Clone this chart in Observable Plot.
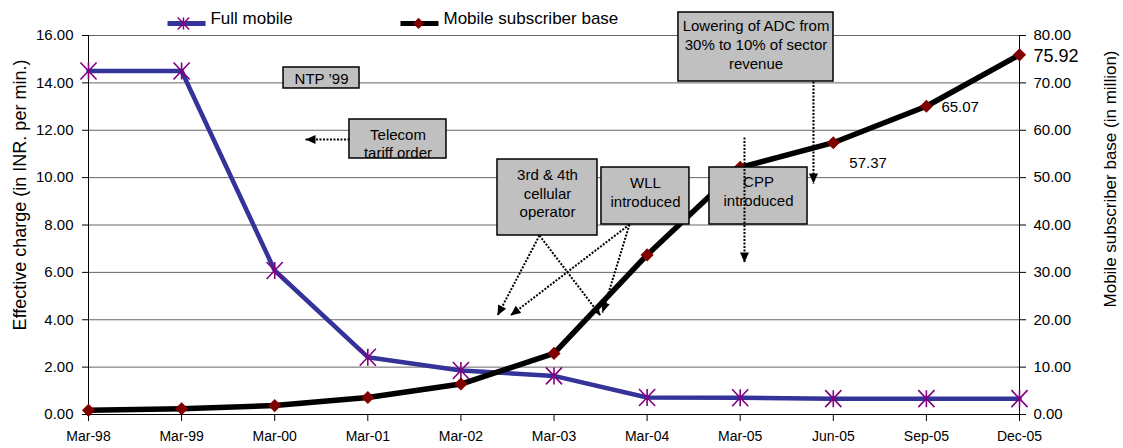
<!DOCTYPE html>
<html><head><meta charset="utf-8">
<script src="https://cdn.jsdelivr.net/npm/d3@7"></script>
<script src="https://cdn.jsdelivr.net/npm/@observablehq/plot@0.6"></script>
<style>body{margin:0;background:#fff} svg{display:block;overflow:visible}</style>
</head><body><div id="chart"></div>
<script>
// ---- data ----
const categories = ["Mar-98","Mar-99","Mar-00","Mar-01","Mar-02","Mar-03","Mar-04","Mar-05","Jun-05","Sep-05","Dec-05"];
const fullMobile = [14.5, 14.5, 6.08, 2.42, 1.86, 1.63, 0.72, 0.71, 0.67, 0.67, 0.67];
const subscriberBase = [0.88, 1.2, 1.88, 3.58, 6.43, 12.9, 33.69, 52.17, 57.37, 65.07, 75.92];
const leftTicks = [0, 2, 4, 6, 8, 10, 12, 14, 16];
const rightTicks = [0, 10, 20, 30, 40, 50, 60, 70, 80];
const seriesNames = ["Full mobile", "Mobile subscriber base"];
const labeledPoints = [8, 9, 10];
const leftTitle = "Effective charge (in INR. per min.)";
const rightTitle = "Mobile subscriber base (in million)";

// ---- layout / annotations (data coordinates: x = category index, y = left axis value) ----
const W = 1123, H = 448, mL = 88, mR = 104, mT = 35, mB = 34;
const ratio = 80 / 16;
const kx = (W - mL - mR) / 10, ky = (H - mT - mB) / 16;

const boxes = [
  {x1: 2.095, x2: 2.911, y1: 13.763, y2: 14.649, tx: 2.503, ty: 14.185, text: "NTP \u201999"},
  {x1: 2.803, x2: 3.845, y1: 10.807, y2: 12.454, tx: 3.324, ty: 11.462, text: "Telecom\ntariff order"},
  {x1: 4.393, x2: 5.467, y1: 7.557, y2: 10.765, tx: 4.930, ty: 9.372, text: "3rd & 4th\ncellular\noperator"},
  {x1: 5.510, x2: 6.455, y1: 8.021, y2: 10.427, tx: 5.983, ty: 9.414, text: "WLL\nintroduced"},
  {x1: 6.670, x2: 7.723, y1: 8.021, y2: 10.427, tx: 7.197, ty: 9.456, text: "CPP\nintroduced"},
  {x1: 6.337, x2: 8.002, y1: 14.058, y2: 16.971, tx: 7.170, ty: 15.641, text: "Lowering of ADC from\n30% to 10% of sector\nrevenue"}
];
const arrows = [
  {x1: 2.803, y1: 11.609, x2: 2.331, y2: 11.609},
  {x1: 4.844, y1: 7.557, x2: 4.393, y2: 4.179},
  {x1: 4.844, y1: 7.557, x2: 5.499, y2: 4.179},
  {x1: 5.811, y1: 8.021, x2: 4.533, y2: 4.179},
  {x1: 5.811, y1: 8.021, x2: 5.521, y2: 4.306},
  {x1: 7.046, y1: 11.694, x2: 7.046, y2: 6.417},
  {x1: 7.787, y1: 14.058, x2: 7.787, y2: 9.752}
].map(a => ({...a, angle: Math.atan2((a.x2 - a.x1) * kx, (a.y2 - a.y1) * ky) * 180 / Math.PI}));

const legend = [
  {name: seriesNames[0], lx1: 0.849, lx2: 1.257, mx: 1.02, tx: 1.31, ly: 16.51, ty: 16.70, color: "#333399"},
  {name: seriesNames[1], lx1: 3.351, lx2: 3.759, mx: 3.545, tx: 3.813, ly: 16.51, ty: 16.70, color: "#000000"}
];

// custom symbols
const star = {draw(ctx, size) {
  const r = Math.sqrt(size / Math.PI);
  ctx.moveTo(-r * 0.95, -r); ctx.lineTo(r * 0.95, r);
  ctx.moveTo(-r * 0.95, r); ctx.lineTo(r * 0.95, -r);
  ctx.moveTo(0, -r); ctx.lineTo(0, r);
}};
const head = {draw(ctx) {
  ctx.moveTo(0, 0); ctx.lineTo(4.5, 10); ctx.lineTo(-4.5, 10); ctx.closePath();
}};

const idx = d3.range(categories.length);

const chart = Plot.plot({
  width: W, height: H,
  marginLeft: mL, marginRight: mR, marginTop: mT, marginBottom: mB,
  style: {fontFamily: "Liberation Sans, Arial, Helvetica, sans-serif", fontSize: "15px", background: "#fff", color: "#000", overflow: "visible"},
  x: {domain: [0, categories.length - 1]},
  y: {domain: [0, 16]},
  marks: [
    Plot.ruleY(leftTicks.filter(d => d > 0), {stroke: "#666", strokeWidth: 1}),
    Plot.axisX({ticks: idx, tickFormat: i => categories[i], tickSize: 7, tickPadding: 10, label: null, fontSize: 14}),
    Plot.axisY({ticks: leftTicks, tickFormat: d => d.toFixed(2), tickSize: 6, tickPadding: 9, label: null, fontSize: 15}),
    Plot.axisY({anchor: "right", ticks: rightTicks.map(v => v / ratio), tickFormat: d => (d * ratio).toFixed(2), tickSize: 6, tickPadding: 8, label: null, fontSize: 15}),
    Plot.ruleX([0, categories.length - 1], {stroke: "#000", strokeWidth: 1}),
    Plot.ruleY([0], {stroke: "#000", strokeWidth: 1}),
    Plot.line(idx, {x: i => i, y: i => fullMobile[i], stroke: "#333399", strokeWidth: 4.5}),
    Plot.line(idx, {x: i => i, y: i => subscriberBase[i] / ratio, stroke: "#000", strokeWidth: 5.5}),
    Plot.dot(idx, {x: i => i, y: i => fullMobile[i], symbol: star, r: 8.5, fill: "none", stroke: "#800080", strokeWidth: 1.6}),
    Plot.dot(idx, {x: i => i, y: i => subscriberBase[i] / ratio, symbol: "diamond2", r: 5.9, fill: "#800000", stroke: "none"}),
    Plot.text([labeledPoints[0]], {x: i => i, y: i => subscriberBase[i] / ratio, text: i => subscriberBase[i].toFixed(2), textAnchor: "start", dx: 16, dy: 20, fontSize: 15}),
    Plot.text([labeledPoints[1]], {x: i => i, y: i => subscriberBase[i] / ratio, text: i => subscriberBase[i].toFixed(2), textAnchor: "start", dx: 15, dy: 1, fontSize: 15}),
    Plot.text([labeledPoints[2]], {x: i => i, y: i => subscriberBase[i] / ratio, text: i => subscriberBase[i].toFixed(2), textAnchor: "start", dx: 14, dy: 1, fontSize: 18}),
    Plot.rect(boxes, {x1: "x1", x2: "x2", y1: "y1", y2: "y2", fill: "#c0c0c0", stroke: "#000", strokeWidth: 1.5}),
    Plot.text(boxes, {x: "tx", y: "ty", text: "text", lineAnchor: "middle", lineHeight: 1.25, fontSize: 15}),
    Plot.link(arrows, {x1: "x1", y1: "y1", x2: "x2", y2: "y2", stroke: "#000", strokeWidth: 2, strokeDasharray: "2,1.5"}),
    Plot.dot(arrows, {x: "x2", y: "y2", symbol: head, rotate: "angle", fill: "#000", stroke: "none"}),
    Plot.link(legend, {x1: "lx1", x2: "lx2", y1: "ly", y2: "ly", stroke: "color", strokeWidth: 5}),
    Plot.dot(legend.slice(0, 1), {x: "mx", y: "ly", symbol: star, r: 6, fill: "none", stroke: "#800080", strokeWidth: 1.5}),
    Plot.dot(legend.slice(1), {x: "mx", y: "ly", symbol: "diamond2", r: 5, fill: "#800000"}),
    Plot.text(legend, {x: "tx", y: "ty", text: "name", textAnchor: "start", fontSize: 17}),
    Plot.text([leftTitle], {frameAnchor: "left", textAnchor: "middle", lineAnchor: "middle", rotate: -90, dx: -68, dy: -30, fontSize: 18}),
    Plot.text([rightTitle], {frameAnchor: "right", textAnchor: "middle", lineAnchor: "middle", rotate: -90, dx: 91, dy: -46, fontSize: 17})
  ]
});
document.getElementById("chart").appendChild(chart);
</script>
</body></html>
